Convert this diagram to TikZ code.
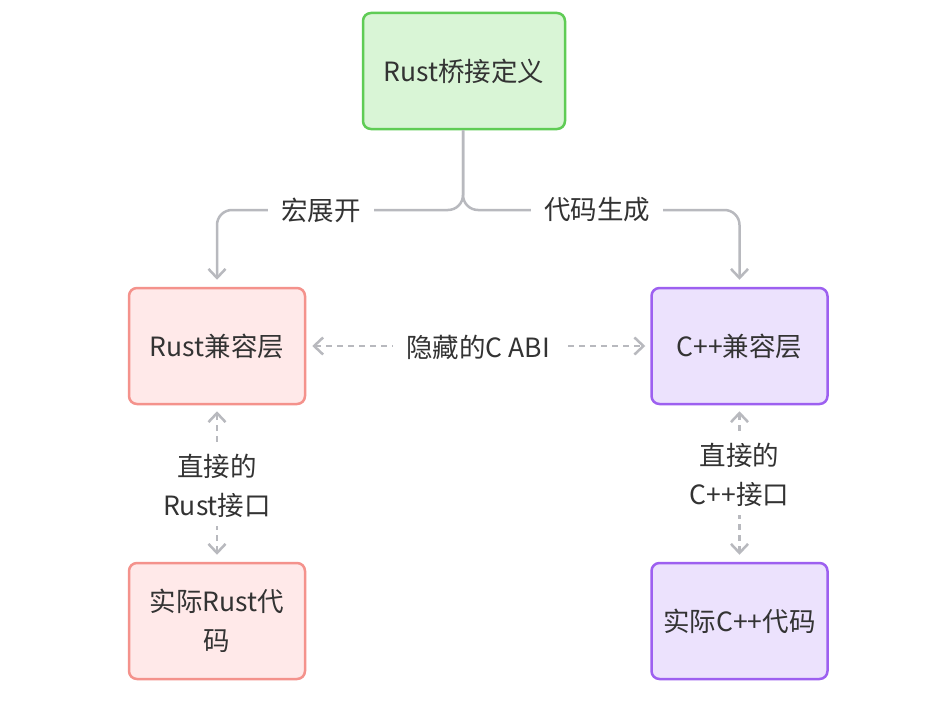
\documentclass[tikz,border=0pt]{standalone}
\usepackage{fontspec}
\setmainfont{Noto Sans CJK SC}
\usetikzlibrary{arrows.meta}
\definecolor{txt}{HTML}{333333}
\definecolor{edge}{HTML}{B8B9BE}
\definecolor{gfill}{HTML}{D9F5D6}
\definecolor{gline}{HTML}{5FCC55}
\definecolor{rfill}{HTML}{FFE9E9}
\definecolor{rline}{HTML}{F4928C}
\definecolor{pfill}{HTML}{ECE2FD}
\definecolor{pline}{HTML}{9D60F0}
\tikzset{
  box/.style={rounded corners=8pt, line width=2.5pt, inner sep=0pt,
    minimum height=116pt, align=center, text=txt,
    font=\fontsize{26.5pt}{39pt}\selectfont},
  gbox/.style={box, fill=gfill, draw=gline, minimum width=202pt},
  rbox/.style={box, fill=rfill, draw=rline, minimum width=176pt},
  pbox/.style={box, fill=pfill, draw=pline, minimum width=176pt},
  tip/.style={Straight Barb[length=9pt,width=17pt,line width=2.5pt]},
  conn/.style={draw=edge, line width=2.5pt, -{Straight Barb[length=9pt,width=17pt,line width=2.5pt]}},
  dconn/.style={draw=edge, line width=2.5pt, dash pattern=on 6pt off 5pt,
    {Straight Barb[length=9pt,width=17pt,line width=2.5pt]}-{Straight Barb[length=9pt,width=17pt,line width=2.5pt]}},
  lbl/.style={fill=white, inner xsep=13pt, inner ysep=8pt, text=txt, align=center,
    font=\fontsize{26.5pt}{39pt}\selectfont}
}
\begin{document}
\begin{tikzpicture}[x=1pt,y=-1pt]
\useasboundingbox[fill=white] (0,0) rectangle (933,706);
% nodes
\node[gbox] (top) at (464,71) {Rust桥接定义};
\node[rbox] (rustc) at (217,346) {Rust兼容层};
\node[pbox] (cppc) at (739.5,346) {C++兼容层};
\node[rbox] (rustcode) at (217,621) {实际Rust代\\码};
\node[pbox] (cppcode) at (739.5,621) {实际C++代码};
% edges
\coordinate (fork) at (463,210);
\draw[conn, rounded corners=15pt, shorten >=7pt] (top.south -| fork) -- (fork) -- (rustc.north |- fork) -- (rustc.north);
\draw[conn, rounded corners=15pt, shorten >=7pt] (top.south -| fork) -- (fork) -- (cppc.north |- fork) -- (cppc.north);
\draw[dconn, shorten <=6pt, shorten >=5pt] (rustc.east) -- (cppc.west);
\draw[dconn, shorten <=6pt, shorten >=7pt] (rustc.south) -- (rustcode.north);
\draw[dconn, shorten <=6pt, shorten >=7pt] (cppc.south) -- (cppcode.north);
% labels
\node[lbl] (l1) at (321,210) {宏展开};
\node[lbl] (l2) at (597,210) {代码生成};
\node[lbl] (l3) at (478,347) {隐藏的C ABI};
\node[lbl] (l4) at (217,486) {直接的\\Rust接口};
\node[lbl] (l5) at (739.5,475) {直接的\\C++接口};
\end{tikzpicture}
\end{document}
